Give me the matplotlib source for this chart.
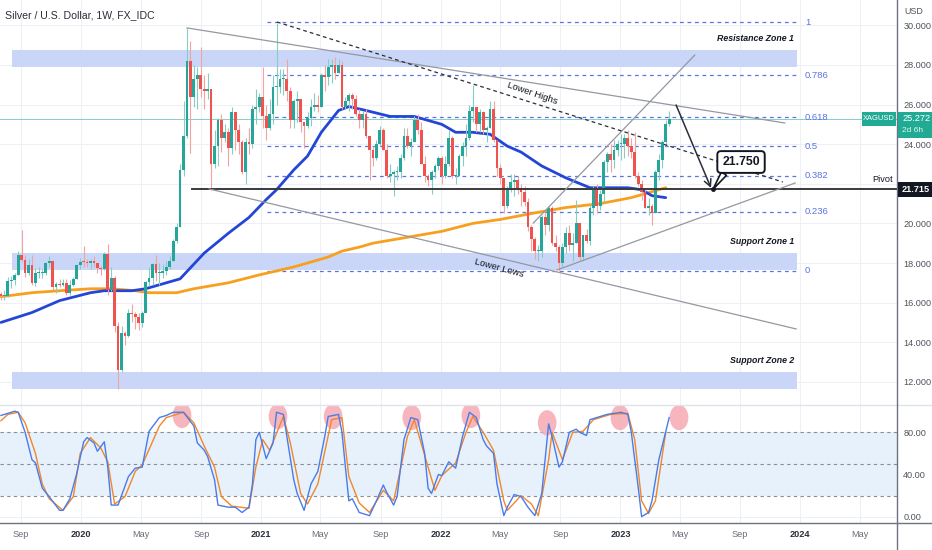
import numpy as np
import pandas as pd
import matplotlib
matplotlib.use('Agg')
import matplotlib.pyplot as plt
import matplotlib.dates as mdates
import matplotlib.font_manager as fm
import matplotlib.transforms as mtrans
from matplotlib.patches import Ellipse, Rectangle
from matplotlib.lines import Line2D

avail = {f.name for f in fm.fontManager.ttflist}
NARROW = 'Liberation Sans Narrow' if 'Liberation Sans Narrow' in avail else 'Liberation Sans'
plt.rcParams['font.family'] = [NARROW, 'DejaVu Sans']

# ---------------- data ----------------
first_week = '2019-07-22'
first_open = 16.45
close = [16.35, 16.35, 17.08, 17.14, 17.40, 18.40, 18.16, 17.52, 17.90, 17.01, 17.50, 17.50, 17.50, 18.00, 18.12,
         16.80, 16.95, 16.90, 16.98, 16.50, 16.90, 17.20, 17.90, 18.06,
         18.05, 18.00, 18.08, 17.98, 17.75, 17.72, 18.45, 16.63, 17.25, 14.80, 12.60, 14.45, 14.30, 15.50, 15.40,
         15.25, 14.95, 15.50, 17.05, 17.25, 17.95, 17.50, 17.50, 17.60, 17.80, 18.10, 19.10, 19.80, 22.70, 24.40,
         28.20, 26.40, 27.30, 27.50, 26.80, 26.70, 26.80, 23.00, 23.90, 25.20, 24.30, 24.60, 23.80, 25.60, 24.70,
         24.10, 22.60, 24.10, 24.00, 25.80, 25.90, 26.40,
         25.40, 24.80, 25.50, 26.90, 26.90, 27.30, 27.30, 26.70, 25.20, 26.20, 26.30, 25.10, 24.90, 25.30, 25.90,
         26.00, 25.90, 27.50, 27.40, 27.90, 28.00, 27.60, 28.00, 25.90, 26.20, 26.50, 26.30, 25.50, 25.20, 25.50,
         24.40, 23.70, 23.30, 24.00, 24.70, 23.70, 22.40, 22.50, 22.60, 22.60, 23.30, 24.40, 23.90, 24.10, 25.20,
         24.70, 23.00, 22.40, 22.20, 22.60, 22.90, 23.30,
         22.40, 23.00, 24.30, 22.40, 22.40, 23.40, 23.90, 24.30, 25.70, 25.90, 25.00, 25.60, 24.70, 24.80, 25.80,
         24.20, 22.80, 22.30, 20.90, 21.70, 22.10, 22.20, 21.80, 21.60, 21.10, 19.80, 19.20, 18.60, 18.60, 20.30,
         19.90, 20.80, 19.00, 18.80, 18.00, 18.80, 19.50, 18.90, 19.00, 20.00, 18.30, 19.40, 19.10, 20.80, 21.70,
         20.90, 21.50, 23.10, 23.50, 23.20, 23.70, 24.00,
         24.00, 24.30, 23.90, 23.60, 22.40, 22.00, 21.60, 20.80, 20.90, 20.50, 22.60, 23.20, 24.10, 25.00, 25.272]
high = [16.55, 16.65, 17.30, 17.35, 17.50, 18.60, 19.65, 18.40, 18.20, 18.40, 17.75, 17.80, 17.70, 18.05, 18.35,
        18.15, 17.05, 17.20, 17.20, 17.20, 17.15, 17.30, 17.95, 18.25,
        18.85, 18.20, 18.20, 18.35, 18.00, 17.85, 18.55, 18.95, 17.80, 17.35, 15.00, 14.80, 14.55, 15.70, 15.95,
        15.55, 15.50, 15.60, 17.10, 17.80, 18.00, 18.40, 18.00, 17.95, 18.10, 18.35, 19.20, 20.00, 23.00, 26.20,
        29.86, 29.20, 28.00, 27.90, 28.90, 27.50, 27.60, 26.80, 24.70, 25.30, 25.50, 25.00, 24.80, 25.90, 25.40,
        25.00, 24.20, 24.30, 24.80, 26.00, 26.80, 26.60,
        27.90, 26.00, 26.30, 27.50, 30.10, 27.80, 27.80, 28.30, 26.90, 26.30, 26.70, 26.00, 25.10, 25.60, 26.30,
        26.60, 26.50, 27.60, 28.00, 28.30, 28.30, 28.40, 28.30, 28.20, 26.40, 26.60, 26.60, 26.50, 25.80, 25.70,
        25.80, 24.00, 23.90, 24.20, 24.90, 24.80, 24.00, 23.00, 22.70, 22.90, 23.50, 24.80, 24.80, 24.30, 25.40,
        25.50, 25.10, 23.40, 22.50, 22.70, 23.00, 23.40,
        23.40, 23.40, 24.70, 24.40, 22.80, 23.50, 24.10, 25.00, 26.00, 27.00, 25.90, 25.80, 25.70, 24.90, 26.20,
        26.20, 24.20, 23.00, 22.30, 21.90, 22.50, 22.50, 22.40, 22.00, 21.90, 21.30, 19.90, 19.30, 18.90, 20.40,
        20.50, 20.90, 20.90, 19.40, 18.90, 19.00, 19.80, 19.90, 19.50, 21.20, 20.00, 19.40, 19.70, 21.00, 21.90,
        22.00, 21.70, 23.20, 23.60, 24.00, 24.20, 24.20,
        24.50, 24.50, 24.70, 24.30, 24.60, 22.60, 22.20, 21.80, 21.30, 21.00, 22.70, 23.50, 24.20, 25.20, 25.70]
low = [16.15, 16.15, 16.30, 16.75, 16.90, 17.40, 18.05, 17.30, 17.40, 16.90, 16.85, 17.25, 17.25, 17.40, 17.80,
       16.65, 16.50, 16.80, 16.85, 16.40, 16.40, 16.85, 17.20, 17.70,
       17.80, 17.80, 17.70, 17.80, 17.50, 17.40, 17.65, 16.40, 16.60, 14.50, 11.64, 12.50, 13.85, 14.25, 15.00,
       14.65, 14.60, 14.75, 15.55, 16.85, 16.90, 17.10, 16.90, 17.25, 17.40, 17.70, 18.10, 19.00, 19.80, 22.40,
       24.30, 23.55, 25.90, 25.80, 26.40, 25.80, 26.30, 21.70, 22.80, 22.90, 23.60, 24.10, 22.90, 23.50, 23.70,
       23.50, 22.50, 22.00, 23.50, 23.80, 25.00, 25.60,
       24.80, 24.20, 24.70, 25.00, 26.00, 26.60, 26.50, 26.20, 24.80, 24.80, 25.10, 24.60, 23.80, 24.80, 24.90,
       25.70, 25.60, 25.90, 26.70, 27.00, 27.10, 27.30, 27.60, 25.80, 25.80, 25.70, 25.80, 25.40, 24.80, 24.80,
       24.30, 22.20, 22.90, 23.20, 23.90, 23.70, 22.30, 22.10, 21.40, 22.20, 22.30, 23.20, 23.80, 23.40, 24.10,
       24.50, 23.00, 22.10, 21.90, 21.50, 22.30, 22.70,
       22.00, 22.30, 22.90, 22.30, 22.00, 22.40, 22.90, 23.40, 24.20, 25.10, 24.60, 24.60, 24.50, 24.10, 24.80,
       24.10, 22.40, 22.00, 20.50, 20.80, 21.60, 21.40, 21.50, 20.90, 20.90, 19.60, 18.60, 18.20, 18.10, 18.30,
       19.40, 19.60, 18.90, 18.60, 17.60, 17.80, 18.50, 18.60, 18.10, 19.00, 18.10, 18.10, 19.00, 18.90, 20.40,
       20.50, 20.70, 21.10, 22.60, 22.60, 22.80, 23.40,
       23.20, 23.30, 23.40, 23.30, 22.30, 21.90, 21.20, 20.80, 20.40, 19.90, 20.50, 22.20, 22.80, 23.90, 24.90]

# moving averages (week index, price)
ma_blue_week = [0, 9, 17, 26, 30, 38, 42, 46, 52, 59, 66, 72, 77, 80, 85, 89, 93, 98, 101, 106, 113, 120, 128,
                132, 137, 142, 147, 151, 157, 164, 171, 177, 182, 186, 189, 193]
ma_blue_val = [15.0, 15.5, 16.1, 16.5, 16.6, 16.6, 16.7, 16.9, 17.2, 18.5, 19.5, 20.3, 21.2, 21.7, 22.7, 23.4,
               24.6, 25.7, 25.9, 25.7, 25.4, 25.4, 25.0, 24.6, 24.6, 24.5, 23.9, 23.6, 22.9, 22.3, 21.8, 21.8,
               21.8, 21.7, 21.4, 21.3]
ma_orange_week = [0, 9, 17, 26, 32, 39, 43, 51, 56, 66, 75, 85, 95, 99, 104, 108, 118, 128, 137, 145, 151, 154,
                  164, 174, 183, 189, 193]
ma_orange_val = [16.3, 16.5, 16.6, 16.7, 16.7, 16.6, 16.5, 16.5, 16.7, 17.0, 17.4, 17.8, 18.3, 18.6, 18.8, 19.0,
                 19.3, 19.6, 20.0, 20.2, 20.4, 20.5, 20.8, 21.0, 21.3, 21.6, 21.8]

# stochastic RSI (week index, value)
stoch_k_week = [0, 4, 5, 7, 9, 10, 12, 14, 17, 18, 20, 22, 24, 25, 27, 28, 30, 31, 32, 34, 37, 39, 41, 43, 46, 48,
                50, 53, 56, 57, 59, 60, 62, 63, 66, 68, 70, 72, 73, 74, 75, 77, 79, 80, 82, 83, 85, 86, 88, 90,
                92, 94, 95, 98, 99, 100, 101, 102, 104, 107, 109, 111, 112, 114, 115, 117, 119, 121, 123, 124,
                125, 127, 128, 130, 132, 134, 136, 138, 140, 141, 143, 144, 146, 147, 149, 151, 153, 155, 157,
                159, 160, 162, 163, 165, 167, 168, 170, 171, 173, 176, 180, 182, 183, 185, 186, 188, 189, 191, 194]
stoch_k = [96, 100, 99, 80, 54, 51, 27, 19, 6, 6, 17, 41, 71, 75, 70, 62, 71, 47, 11, 11, 38, 46, 47, 81, 94, 96,
           99, 99, 86, 70, 63, 57, 35, 11, 9, 9, 4, 9, 31, 73, 80, 55, 70, 99, 97, 76, 35, 22, 6, 31,
           43, 76, 95, 97, 80, 47, 15, 17, 4, 1, 15, 30, 23, 11, 19, 73, 94, 92, 60, 27,
           22, 40, 39, 52, 46, 76, 99, 94, 73, 67, 60, 31, 1, 9, 21, 19, 9, 1, 22,
           88, 76, 47, 52, 80, 83, 80, 77, 92, 94, 97, 99, 97, 80, 28, 0, 4, 15, 54, 94]
stoch_d_week = [0, 2, 5, 7, 10, 12, 14, 18, 21, 23, 26, 29, 31, 33, 36, 39, 41, 46, 48, 53, 56, 59, 62, 64, 67, 72,
                74, 76, 78, 82, 84, 87, 89, 92, 96, 99, 101, 104, 107, 111, 114, 118, 120, 124, 126, 128, 132,
                135, 137, 140, 143, 146, 147, 151, 154, 156, 159, 160, 163, 166, 169, 172, 177, 182, 184, 186,
                188, 190, 193]
stoch_d = [91, 97, 99, 89, 60, 31, 17, 6, 19, 60, 75, 65, 52, 12, 19, 43, 49, 86, 94, 99, 89, 67, 47, 19, 10, 8,
           47, 73, 63, 95, 70, 22, 12, 31, 92, 94, 38, 13, 4, 25, 15, 76, 92, 47, 25, 39, 51,
           80, 95, 80, 63, 15, 6, 20, 12, 1, 54, 80, 54, 80, 81, 92, 97, 98, 73, 15,
           3, 15, 80]
peak_dates = ['2020-07-24', '2021-02-04', '2021-05-27', '2021-11-03', '2022-03-03', '2022-08-05',
              '2022-12-31', '2023-04-30']
peak_vals = [96, 95, 95, 94, 96, 89, 94, 94]

# drawing objects (date, price)
fib_levels = [1, 0.786, 0.618, 0.5, 0.382, 0.236, 0]
fib_low, fib_high = 17.62, 30.16
fib_span = ['2021-01-13', '2023-12-26']
zones = {'Resistance Zone 1': (27.9, 28.76), 'Support Zone 1': (17.65, 18.5), 'Support Zone 2': (11.64, 12.5)}
zone_span = ['2019-08-14', '2023-12-26']
pivot_price, pivot_start = 21.715, '2020-08-13'
upper_chan = (['2020-08-03', '2023-12-01'], [29.87, 25.07])
lower_chan = (['2020-09-17', '2023-12-24'], [21.74, 14.67])
lower_highs = (['2021-02-02', '2023-11-27'], [30.17, 22.09])
rise_steep = (['2022-07-08', '2023-06-01'], [20.02, 28.50])
rise_low = (['2022-08-25', '2023-12-22'], [17.65, 22.04])
proj_arrow = (['2023-04-24', '2023-07-04'], [25.98, 21.79])
target_price, target_box, target_tip = '21.750', ('2023-09-03', 23.1), ('2023-07-08', 21.72)
last_price = 25.272

price_ticks = [12, 14, 16, 18, 20, 22, 24, 26, 28, 30]
osc_ticks = [0, 40, 80]
time_ticks = ['2019-09-01', '2020-01-01', '2020-05-01', '2020-09-01', '2021-01-01', '2021-05-01', '2021-09-01',
              '2022-01-01', '2022-05-01', '2022-09-01', '2023-01-01', '2023-05-01', '2023-09-01', '2024-01-01',
              '2024-05-01']
time_labels = ['Sep', '2020', 'May', 'Sep', '2021', 'May', 'Sep', '2022', 'May', 'Sep', '2023', 'May', 'Sep',
               '2024', 'May']

# ---------------- figure ----------------
W, H = 932, 550
fig = plt.figure(figsize=(W / 100, H / 100), dpi=100)
fig.patch.set_facecolor('white')
ax = fig.add_axes([0, 1 - 405 / H, 897 / W, 405 / H])
axo = fig.add_axes([0, 1 - 523 / H, 897 / W, 118 / H], sharex=ax)

D = lambda s: mdates.date2num(pd.Timestamp(s))
weeks = pd.date_range(first_week, periods=len(close), freq='7D')
xw = mdates.date2num(weeks)
wk = lambda idx: xw[0] + 7 * np.asarray(idx)

ax.set_xlim(D('2019-07-20'), D('2024-07-16'))
ax.set_ylim(10.83, 31.28)
axo.set_ylim(-6.0, 105.9)

grid_c = '#eef0f5'
for a in (ax, axo):
    for s in a.spines.values():
        s.set_visible(False)
    a.set_facecolor('white')
    for t in time_ticks:
        a.axvline(D(t), color=grid_c, lw=0.8, zorder=0)
for p in price_ticks:
    ax.axhline(p, color=grid_c, lw=0.8, zorder=0)
for v in [0, 40]:
    axo.axhline(v, color=grid_c, lw=0.8, zorder=0)

# zones
zx = [D(zone_span[0]), D(zone_span[1])]
for name, (lo, hi) in zones.items():
    ax.fill_between(zx, lo, hi, color='#c9d6f8', lw=0, zorder=1)
    ax.text(D('2023-12-20'), hi + 0.35, name, ha='right', va='bottom', fontsize=6.3,
            fontweight='bold', fontstyle='italic', color='#131722', zorder=6)

# fib levels
fx = [D(fib_span[0]), D(fib_span[1])]
for lv in fib_levels:
    pr = fib_low + lv * (fib_high - fib_low)
    ax.plot(fx, [pr, pr], color='#5b72e6', lw=0.9, ls=(0, (3, 3)), zorder=2)
    ax.text(D('2024-01-11'), pr, f'{lv:g}', ha='left', va='center', fontsize=6.8, color='#5b72e6', zorder=6)

# current price line
ax.axhline(last_price, color='#26a69a', lw=0.7, alpha=0.55, zorder=1)

# pivot
ax.plot([D(pivot_start), ax.get_xlim()[1]], [pivot_price, pivot_price], color='#3a3a3a', lw=1.4, zorder=4)
ax.text(D('2024-07-08'), pivot_price + 0.25, 'Pivot', ha='right', va='bottom', fontsize=6.6, color='#131722')

# trend lines
def seg(obj, **kw):
    ax.plot([D(obj[0][0]), D(obj[0][1])], obj[1], **kw)

seg(upper_chan, color='#9598a1', lw=0.9, zorder=4)
seg(lower_chan, color='#9598a1', lw=0.9, zorder=4)
seg(rise_steep, color='#9598a1', lw=0.9, zorder=4)
seg(rise_low, color='#9598a1', lw=0.9, zorder=4)
seg(lower_highs, color='#2a2e39', lw=0.9, ls=(0, (3, 2.5)), zorder=4)
ax.text(D('2022-07-06'), 26.59, 'Lower Highs', rotation=-19, ha='center', va='center', fontsize=6.8,
        color='#131722', rotation_mode='anchor', zorder=6)
ax.text(D('2022-04-29'), 17.75, 'Lower Lows', rotation=-15, ha='center', va='center', fontsize=6.8,
        color='#131722', rotation_mode='anchor', zorder=6)

# moving averages
ax.plot(wk(ma_orange_week), ma_orange_val, color='#f7a01f', lw=2.0, zorder=3, solid_capstyle='round')
ax.plot(wk(ma_blue_week), ma_blue_val, color='#2446d6', lw=2.0, zorder=3, solid_capstyle='round')

# candles
c = np.array(close)
o = np.array([first_open] + close[:-1])
h = np.array(high)
l = np.array(low)
up = c >= o
blo = np.minimum(o, c)
bh = np.maximum(np.abs(c - o), 0.05)
ax.vlines(xw[up], l[up], h[up], color='#86cdc4', lw=0.8, zorder=3.5)
ax.vlines(xw[~up], l[~up], h[~up], color='#f4a3a2', lw=0.8, zorder=3.5)
ax.bar(xw[up], bh[up], bottom=blo[up], width=5.6, color='#26a69a', lw=0, zorder=3.6)
ax.bar(xw[~up], bh[~up], bottom=blo[~up], width=5.6, color='#ef5350', lw=0, zorder=3.6)

# projection arrow
ax.annotate('', xy=(D(proj_arrow[0][1]), proj_arrow[1][1]), xytext=(D(proj_arrow[0][0]), proj_arrow[1][0]),
            arrowprops=dict(arrowstyle='->,head_length=0.5,head_width=0.25', color='#2a2e39', lw=1.1,
                            shrinkA=0, shrinkB=0), zorder=7)
ax.annotate(target_price, xy=(D(target_tip[0]), target_tip[1]), xytext=(D(target_box[0]), target_box[1]),
            ha='center', va='center', fontsize=8.8, fontweight='bold', color='#131722', zorder=8,
            bbox=dict(boxstyle='round,pad=0.4,rounding_size=0.3', fc='white', ec='#131722', lw=1.4),
            arrowprops=dict(arrowstyle='wedge,tail_width=0.5,shrink_factor=0.5', fc='white', ec='#131722',
                            lw=1.2, shrinkA=0, shrinkB=0, relpos=(0.15, 0.0)))
ax.plot([D(target_tip[0])], [target_tip[1]], 'o', ms=2.5, color='#131722', zorder=9)

# ---------------- oscillator ----------------
axo.fill_between(ax.get_xlim(), 20, 80, color='#e7f1fc', lw=0, zorder=0.5)
for v in [80, 50, 20]:
    axo.axhline(v, color='#8a8d96', lw=0.8, ls=(0, (3, 3)), zorder=1)
for d, v in zip(peak_dates, peak_vals):
    axo.add_patch(Ellipse((D(d), v), width=38, height=24, facecolor='#f6aab3', edgecolor='none',
                          alpha=0.85, zorder=1.5))
axo.plot(wk(stoch_d_week), stoch_d, color='#f0872a', lw=1.0, zorder=3)
axo.plot(wk(stoch_k_week), stoch_k, color='#4a7bea', lw=1.0, zorder=3)

# ---------------- axes ticks ----------------
ax.yaxis.tick_right()
ax.set_yticks(price_ticks)
# the 22.000 label is covered by the pivot price tag on the reference
ax.set_yticklabels(['' if p == 22 else f'{p:.3f}' for p in price_ticks])
ax.tick_params(axis='y', length=0, pad=4.5, labelsize=6.6, labelcolor='#50535e')
ax.tick_params(axis='x', length=0, labelbottom=False)
axo.yaxis.tick_right()
axo.set_yticks(osc_ticks)
axo.set_yticklabels([f'{v:.2f}' for v in osc_ticks])
axo.tick_params(axis='y', length=0, pad=4.5, labelsize=6.6, labelcolor='#50535e')
axo.set_xticks([D(t) for t in time_ticks])
axo.set_xticklabels(time_labels)
axo.tick_params(axis='x', length=0, pad=5, labelsize=6.6, labelcolor='#6a6d78')
for lab in axo.get_xticklabels():
    if lab.get_text().isdigit():
        lab.set_fontweight('bold')
        lab.set_color('#2a2e39')

# ---------------- frame lines ----------------
fig.add_artist(Line2D([0, 1], [1 - 405 / H] * 2, transform=fig.transFigure, color='#e0e3eb', lw=1.0))
fig.add_artist(Line2D([0, 1], [1 - 523 / H] * 2, transform=fig.transFigure, color='#6f7280', lw=1.0))
fig.add_artist(Line2D([897 / W] * 2, [0, 1], transform=fig.transFigure, color='#6f7280', lw=1.0))

# ---------------- labels ----------------
fig.text(5 / W, 1 - 15 / H, 'Silver / U.S. Dollar, 1W, FX_IDC', fontsize=7.6, color='#2a2e39', va='center')
fig.text(904 / W, 1 - 12 / H, 'USD', fontsize=6.4, color='#50535e', va='center')

bt = mtrans.blended_transform_factory(fig.transFigure, ax.transData)
fig.patches.append(Rectangle((898 / W, 24.32), 34 / W, 1.31, transform=bt, facecolor='#22ab94',
                             edgecolor='none', zorder=10))
fig.text(902 / W, last_price, f'{last_price:.3f}', transform=bt, fontsize=6.6, color='white', va='center',
         zorder=11)
fig.text(902 / W, 24.67, '2d 6h', transform=bt, fontsize=6.0, color='#dff5f1', va='center', zorder=11)
fig.patches.append(Rectangle((862 / W, 24.92), 34 / W, 0.70, transform=bt, facecolor='#22ab94',
                             edgecolor='none', zorder=10))
fig.text(879 / W, last_price, 'XAGUSD', transform=bt, fontsize=5.4, color='white', va='center',
         ha='center', zorder=11)
fig.patches.append(Rectangle((898 / W, 21.34), 34 / W, 0.76, transform=bt, facecolor='#131722',
                             edgecolor='none', zorder=10))
fig.text(902 / W, pivot_price, f'{pivot_price:.3f}', transform=bt, fontsize=6.6, color='white',
         va='center', fontweight='bold', zorder=11)

fig.savefig('out.png', dpi=100, facecolor='white')
